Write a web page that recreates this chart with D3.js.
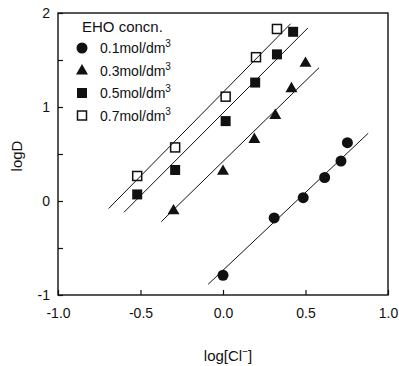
<!DOCTYPE html>
<html>
<head>
<meta charset="utf-8">
<script src="https://cdn.jsdelivr.net/npm/d3@7"></script>
<style>
  html, body { margin: 0; padding: 0; background: #fff; }
  svg { display: block; font-family: "Liberation Sans", Arial, Helvetica, sans-serif; }
</style>
</head>
<body>
<svg id="chart" width="399" height="366"></svg>
<script>
// log D versus log[Cl-] for four EHO concentrations
const seriesNames = ["0.1mol/dm", "0.3mol/dm", "0.5mol/dm", "0.7mol/dm"];
const seriesShapes = ["circle", "triangle", "square", "openSquare"];

const x01 = [0.0, 0.31, 0.486, 0.616, 0.715, 0.754];
const y01 = [-0.79, -0.18, 0.035, 0.25, 0.425, 0.62];
const x03 = [-0.30, 0.0, 0.19, 0.317, 0.415, 0.50];
const y03 = [-0.10, 0.32, 0.66, 0.915, 1.20, 1.47];
const x05 = [-0.52, -0.29, 0.016, 0.195, 0.327, 0.425];
const y05 = [0.07, 0.33, 0.85, 1.26, 1.56, 1.80];
const x07 = [-0.52, -0.29, 0.016, 0.20, 0.327];
const y07 = [0.266, 0.57, 1.11, 1.53, 1.83];

// straight-line fits, given by their two end points
const fitX01 = [-0.09, 0.88], fitY01 = [-0.886, 0.72];
const fitX03 = [-0.374, 0.582], fitY03 = [-0.22, 1.418];
const fitX05 = [-0.60, 0.514], fitY05 = [-0.12, 1.84];
const fitX07 = [-0.693, 0.41], fitY07 = [-0.08, 1.886];

const xTicks = [-1.0, -0.5, 0.0, 0.5, 1.0];
const yTicks = [-1, -0.5, 0, 0.5, 1, 1.5, 2];

const series = [
  { name: seriesNames[0], shape: seriesShapes[0], xs: x01, ys: y01, fx: fitX01, fy: fitY01 },
  { name: seriesNames[1], shape: seriesShapes[1], xs: x03, ys: y03, fx: fitX03, fy: fitY03 },
  { name: seriesNames[2], shape: seriesShapes[2], xs: x05, ys: y05, fx: fitX05, fy: fitY05 },
  { name: seriesNames[3], shape: seriesShapes[3], xs: x07, ys: y07, fx: fitX07, fy: fitY07 }
];

const svg = d3.select("#chart");
const ink = "#111";

const x = d3.scaleLinear().domain([-1, 1]).range([58, 388]);
const y = d3.scaleLinear().domain([-1, 2]).range([295, 13]);

// frame
svg.append("rect")
  .attr("x", x(-1)).attr("y", y(2))
  .attr("width", x(1) - x(-1)).attr("height", y(-1) - y(2))
  .attr("fill", "none").attr("stroke", ink).attr("stroke-width", 1.4);

// x axis with inward ticks
const xAxis = svg.append("g")
  .attr("transform", `translate(0,${y(-1)})`)
  .call(d3.axisBottom(x).tickValues(xTicks).tickSize(-5).tickPadding(13)
    .tickFormat(d3.format(".1f")));
xAxis.select(".domain").remove();
xAxis.selectAll(".tick line").attr("stroke", ink).attr("stroke-width", 1.2);
xAxis.selectAll(".tick text")
  .attr("font-size", 14).attr("fill", ink)
  .text(d => d3.format(".1f")(d).replace("−", "-"));

// y axis with inward ticks, labels on integers
const yAxis = svg.append("g")
  .attr("transform", `translate(${x(-1)},0)`)
  .call(d3.axisLeft(y).tickValues(yTicks).tickSize(-5).tickPadding(8)
    .tickFormat(d => Number.isInteger(d) ? String(d) : ""));
yAxis.select(".domain").remove();
yAxis.selectAll(".tick line").attr("stroke", ink).attr("stroke-width", 1.2);
yAxis.selectAll(".tick text").attr("font-size", 14).attr("fill", ink);

// axis titles
svg.append("text")
  .attr("transform", `translate(22,${(y(2) + y(-1)) / 2 + 2}) rotate(-90)`)
  .attr("text-anchor", "middle").attr("font-size", 15).attr("fill", ink)
  .text("logD");

const xt = svg.append("text")
  .attr("x", 228).attr("y", 361)
  .attr("text-anchor", "middle").attr("font-size", 15).attr("fill", ink);
xt.append("tspan").text("log[Cl");
xt.append("tspan").attr("dy", -6).attr("font-size", 10).text("−");
xt.append("tspan").attr("dy", 6).text("]");

// markers
const triPath = d3.symbol().type(d3.symbolTriangle).size(62)();

function drawMarker(g, shape, cx, cy) {
  if (shape === "circle") {
    g.append("circle").attr("cx", cx).attr("cy", cy).attr("r", 5.5).attr("fill", ink);
  } else if (shape === "triangle") {
    g.append("path").attr("d", triPath)
      .attr("transform", `translate(${cx},${cy + 0.5})`).attr("fill", ink);
  } else if (shape === "square") {
    g.append("rect").attr("x", cx - 5).attr("y", cy - 5)
      .attr("width", 10).attr("height", 10).attr("fill", ink);
  } else {
    g.append("rect").attr("x", cx - 4.5).attr("y", cy - 4.5)
      .attr("width", 9).attr("height", 9)
      .attr("fill", "#fff").attr("stroke", ink).attr("stroke-width", 1.5);
  }
}

const marks = svg.append("g");
series.forEach(s => {
  s.xs.forEach((xv, i) => drawMarker(marks, s.shape, x(xv), y(s.ys[i])));
});

// fit lines drawn over the markers
const line = d3.line().x(d => x(d[0])).y(d => y(d[1]));
svg.append("g").selectAll("path")
  .data(series)
  .join("path")
  .attr("d", s => line(s.fx.map((xv, i) => [xv, s.fy[i]])))
  .attr("fill", "none").attr("stroke", ink).attr("stroke-width", 1);

// legend
const legend = svg.append("g");
legend.append("text")
  .attr("x", 82).attr("y", 32)
  .attr("font-size", 15).attr("fill", ink)
  .text("EHO concn.");

series.forEach((s, i) => {
  const cy = 48 + i * 22.5;
  drawMarker(legend, s.shape, 82, cy);
  const t = legend.append("text")
    .attr("x", 100).attr("y", cy + 5)
    .attr("font-size", 14).attr("fill", ink);
  t.append("tspan").text(s.name);
  t.append("tspan").attr("dy", -6).attr("font-size", 10).text("3");
});
</script>
</body>
</html>
